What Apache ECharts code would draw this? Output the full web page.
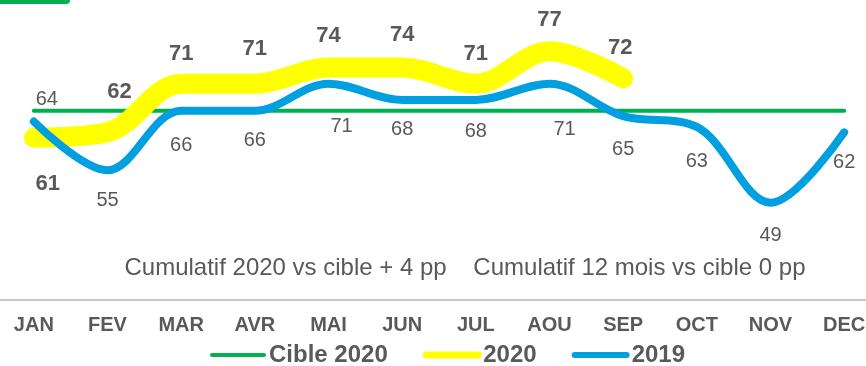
<!DOCTYPE html>
<html>
<head>
<meta charset="utf-8">
<script src="https://cdn.jsdelivr.net/npm/echarts@6/dist/echarts.min.js"></script>
<style>
  html, body { margin: 0; padding: 0; background: #ffffff; }
  #chart { width: 866px; height: 366px; }
</style>
</head>
<body>
<div id="chart"></div>
<script>
// Monthly scores: target line, current year and previous year
const months = ['JAN', 'FEV', 'MAR', 'AVR', 'MAI', 'JUN', 'JUL', 'AOU', 'SEP', 'OCT', 'NOV', 'DEC'];
const cible2020 = [66, 66, 66, 66, 66, 66, 66, 66, 66, 66, 66, 66];
const values2020 = [61, 62, 71, 71, 74, 74, 71, 77, 72];
const values2019 = [64, 55, 66, 66, 71, 68, 68, 71, 65, 63, 49, 62];
const summaryText = 'Cumulatif 2020 vs cible + 4 pp    Cumulatif 12 mois vs cible 0 pp';

const FONT = 'Liberation Sans, Arial, sans-serif';
const GREEN = '#00b050';
const YELLOW = '#ffff00';
const BLUE = '#009fdf';
const TEXT = '#595959';

// Hand-tuned label placement per month: [position, distance, dx]
const labelPlace2020 = [
  ['bottom', 35, 14], ['top', 29, 12], ['top', 18, 0], ['top', 23, 0], ['top', 20, 0],
  ['top', 21, 0], ['top', 18, 0], ['top', 20, 0], ['top', 19, -3]
];
const labelPlace2019 = [
  ['top', 12, 13], ['bottom', 20, 0], ['bottom', 24, 0], ['bottom', 19, 0], ['bottom', 32, 13],
  ['bottom', 19, 0], ['bottom', 21, 0], ['bottom', 35, 15], ['bottom', 23, 0], ['bottom', 24, 0],
  ['bottom', 22, 0], ['bottom', 20, 0]
];

function withLabels(values, places) {
  return values.map((v, i) => {
    const p = places[i];
    return { value: v, label: { position: p[0], distance: p[1], offset: [p[2], 0] } };
  });
}

const chart = echarts.init(document.getElementById('chart'), null, { renderer: 'canvas' });

chart.setOption({
  animation: false,
  backgroundColor: '#ffffff',
  textStyle: { fontFamily: FONT },
  grid: { left: -3, right: -15, top: 35, bottom: 66, containLabel: false, outerBoundsMode: 'none' },
  xAxis: {
    type: 'category',
    data: months,
    boundaryGap: true,
    axisLine: { show: true, lineStyle: { color: '#c8c8c8', width: 2 } },
    axisTick: { show: false },
    axisLabel: { color: TEXT, fontFamily: FONT, fontSize: 20, fontWeight: 'bold', margin: 15 },
    splitLine: { show: false }
  },
  yAxis: {
    type: 'value',
    min: 31,
    max: 80,
    show: false,
    splitLine: { show: false }
  },
  legend: {
    left: 210,
    top: 343,
    padding: 0,
    itemWidth: 52,
    itemHeight: 14,
    itemGap: 35,
    textStyle: { color: TEXT, fontFamily: FONT, fontSize: 24, fontWeight: 'bold' },
    data: [
      { name: 'Cible 2020', itemStyle: { opacity: 0 }, lineStyle: { width: 4, cap: 'round' } },
      { name: '2020', itemStyle: { opacity: 0 }, lineStyle: { width: 7, cap: 'round' } },
      { name: '2019', itemStyle: { opacity: 0 }, lineStyle: { width: 6, cap: 'round' } }
    ]
  },
  graphic: [
    {
      type: 'rect',
      shape: { x: -10, y: -10, width: 80, height: 14, r: 4 },
      style: { fill: GREEN },
      silent: true
    },
    {
      type: 'text',
      x: 465,
      y: 268,
      style: {
        text: summaryText,
        fill: TEXT,
        font: 'normal 24px ' + FONT,
        textAlign: 'center',
        textVerticalAlign: 'middle'
      },
      silent: true
    }
  ],
  series: [
    {
      name: 'Cible 2020',
      type: 'line',
      data: cible2020,
      symbol: 'circle',
      symbolSize: 1,
      itemStyle: { color: GREEN },
      lineStyle: { color: GREEN, width: 4, cap: 'round' },
      label: { show: false },
      z: 2
    },
    {
      name: '2020',
      type: 'line',
      data: withLabels(values2020, labelPlace2020),
      smooth: 0.35,
      symbol: 'circle',
      symbolSize: 1,
      itemStyle: { color: YELLOW },
      lineStyle: { color: YELLOW, width: 20, cap: 'round', join: 'round' },
      label: { show: true, color: TEXT, fontFamily: FONT, fontSize: 22, fontWeight: 'bold' },
      z: 3
    },
    {
      name: '2019',
      type: 'line',
      data: withLabels(values2019, labelPlace2019),
      smooth: 0.35,
      symbol: 'circle',
      symbolSize: 1,
      itemStyle: { color: BLUE },
      lineStyle: { color: BLUE, width: 8, cap: 'round', join: 'round' },
      label: { show: true, color: TEXT, fontFamily: FONT, fontSize: 20 },
      z: 4
    }
  ]
});
</script>
</body>
</html>
